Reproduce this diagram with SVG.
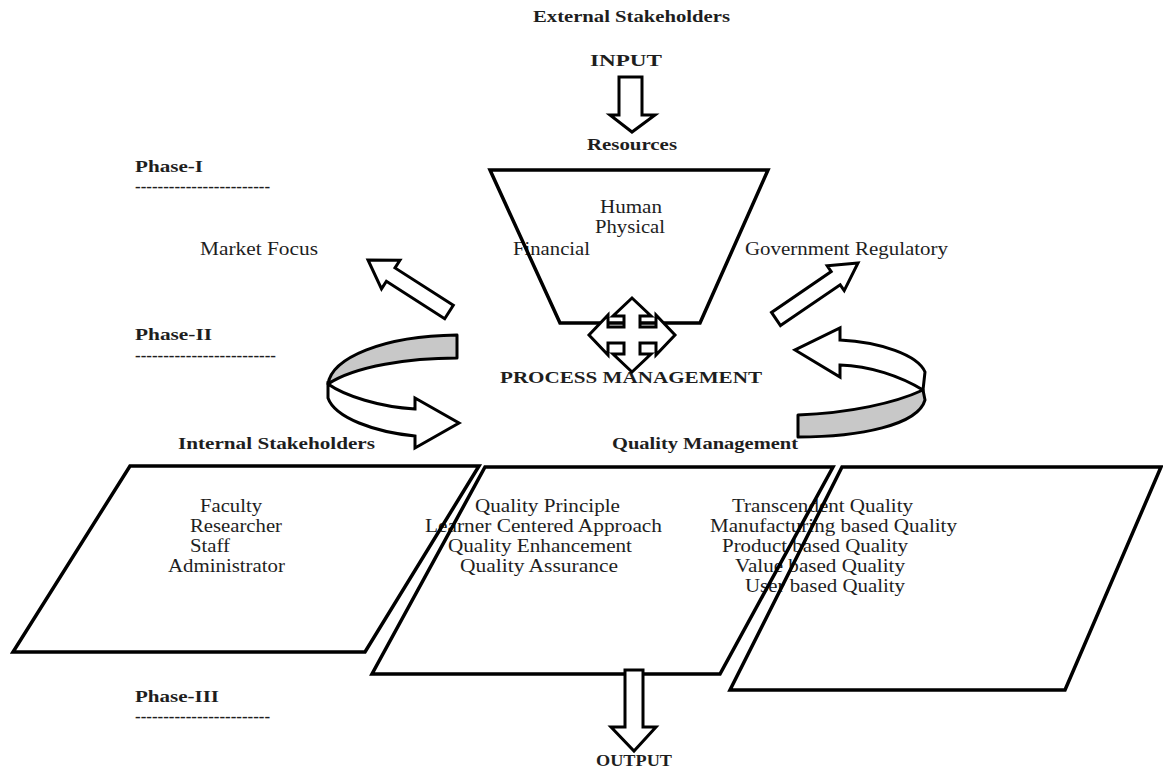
<svg xmlns="http://www.w3.org/2000/svg" width="1163" height="769" viewBox="0 0 1163 769">
<style>
text{font-family:"Liberation Serif","Times New Roman",serif;fill:#1e1e1e;font-size:18px}
.b{font-weight:bold;font-size:17.5px}
.d{font-weight:bold;font-size:16px}
.shape{fill:none;stroke:#000;stroke-width:3.5;stroke-linejoin:miter}
.arr{fill:#fff;stroke:#000;stroke-width:3;stroke-linejoin:miter}
.band{fill:#c8c8c8;stroke:#000;stroke-width:3;stroke-linejoin:round}
.wband{fill:#fff;stroke:#000;stroke-width:3;stroke-linejoin:miter}
</style>

<g id="labels">
<text class="b" x="533" y="22" textLength="197" lengthAdjust="spacingAndGlyphs" style="font-size:16px">External Stakeholders</text>
<text class="b" x="590" y="66" textLength="72" lengthAdjust="spacingAndGlyphs">INPUT</text>
<text class="b" x="587" y="150" textLength="90" lengthAdjust="spacingAndGlyphs">Resources</text>
<text class="b" x="135" y="172" textLength="68" lengthAdjust="spacingAndGlyphs">Phase-I</text>
<text class="d" x="135" y="192" textLength="135" lengthAdjust="spacingAndGlyphs">------------------------</text>
<text class="b" x="135" y="340" textLength="77" lengthAdjust="spacingAndGlyphs">Phase-II</text>
<text class="d" x="135" y="361" textLength="141" lengthAdjust="spacingAndGlyphs">-------------------------</text>
<text class="b" x="135" y="702" textLength="84" lengthAdjust="spacingAndGlyphs">Phase-III</text>
<text class="d" x="135" y="722" textLength="135" lengthAdjust="spacingAndGlyphs">------------------------</text>
<text x="200" y="255" textLength="118" lengthAdjust="spacingAndGlyphs">Market Focus</text>
<text x="745" y="255" textLength="203" lengthAdjust="spacingAndGlyphs">Government Regulatory</text>
<text class="b" x="500" y="383" textLength="262" lengthAdjust="spacingAndGlyphs">PROCESS MANAGEMENT</text>
<text class="b" x="178" y="449" textLength="197" lengthAdjust="spacingAndGlyphs">Internal Stakeholders</text>
<text class="b" x="612" y="449" textLength="186" lengthAdjust="spacingAndGlyphs">Quality Management</text>
<text class="b" x="596" y="766" textLength="76" lengthAdjust="spacingAndGlyphs">OUTPUT</text>
</g>

<g id="resources">
<text x="600" y="213" textLength="62" lengthAdjust="spacingAndGlyphs">Human</text>
<text x="595" y="233" textLength="70" lengthAdjust="spacingAndGlyphs">Physical</text>
<text x="513" y="255" textLength="77" lengthAdjust="spacingAndGlyphs">Financial</text>
<polygon class="shape" points="490,170 768,170 700,323 560,323"/>
</g>

<g id="quality-dimensions">
<text x="732" y="512" textLength="181" lengthAdjust="spacingAndGlyphs">Transcendent Quality</text>
<text x="710" y="532" textLength="247" lengthAdjust="spacingAndGlyphs">Manufacturing based Quality</text>
<text x="722" y="552" textLength="186" lengthAdjust="spacingAndGlyphs">Product based Quality</text>
<text x="735" y="572" textLength="170" lengthAdjust="spacingAndGlyphs">Value based Quality</text>
<text x="745" y="592" textLength="160" lengthAdjust="spacingAndGlyphs">User based Quality</text>
<polygon class="shape" points="842,467 1161,467 1065,690 730,690"/>
</g>

<g id="quality-principles">
<text x="475" y="512" textLength="145" lengthAdjust="spacingAndGlyphs">Quality Principle</text>
<text x="425" y="532" textLength="237" lengthAdjust="spacingAndGlyphs">Learner Centered Approach</text>
<text x="448" y="552" textLength="184" lengthAdjust="spacingAndGlyphs">Quality Enhancement</text>
<text x="460" y="572" textLength="158" lengthAdjust="spacingAndGlyphs">Quality Assurance</text>
<polygon class="shape" points="485,467 833,467 720,674 372,674"/>
</g>

<g id="internal-stakeholders">
<text x="200" y="512" textLength="62" lengthAdjust="spacingAndGlyphs">Faculty</text>
<text x="190" y="532" textLength="92" lengthAdjust="spacingAndGlyphs">Researcher</text>
<text x="190" y="552" textLength="40" lengthAdjust="spacingAndGlyphs">Staff</text>
<text x="168" y="572" textLength="117" lengthAdjust="spacingAndGlyphs">Administrator</text>
<polygon class="shape" points="130,466 479,466 365,652 13,652"/>
</g>

<g id="connectors">
<polygon id="input-arrow" class="arr" points="619,77 642,77 642,115 655,115 632,132 610,115 619,115"/>
<polygon id="output-arrow" class="arr" points="625,670 643,670 643,727 656,727 634,751 611,727 625,727"/>
<polygon id="market-arrow" class="arr" points="453.3,305.3 395,267.9 399.9,260.3 368,260 381.5,288.9 386.4,281.3 444.7,318.7"/>
<polygon id="gov-arrow" class="arr" points="780.5,325.6 840.2,284.8 844.2,290.6 858,263 827.2,265.8 831.2,271.6 771.5,312.4"/>
<polygon id="process-arrow" class="arr" transform="translate(632,335)" points="0,-37 19,-19 8,-19 8,-8 24,-8 24,-20 43,0 24,20 24,8 8,8 8,19 19,19 0,37 -19,19 -8,19 -8,8 -24,8 -24,20 -43,0 -24,-20 -24,-8 -8,-8 -8,-19 -19,-19"/>
<g id="left-cycle">
<path class="band" d="M457,335 L457,358 C410,358 355,366 328,384 C332,358 382,336 457,335 Z"/>
<path class="wband" d="M328,384 C345,396 380,407 415,409 L415,398 L459,423 L415,448 L415,436 C375,432 335,418 328,398 Z"/>
</g>
<g id="right-cycle">
<path class="band" d="M798,415 C850,413 895,403 923,390 L925,400 C918,425 860,437 798,437 Z"/>
<path class="wband" d="M923,390 L925,372 C918,355 880,342 840,340 L840,328 L795,350 L840,377 L840,365 C870,366 900,376 923,390 Z"/>
</g>
</g>
</svg>
